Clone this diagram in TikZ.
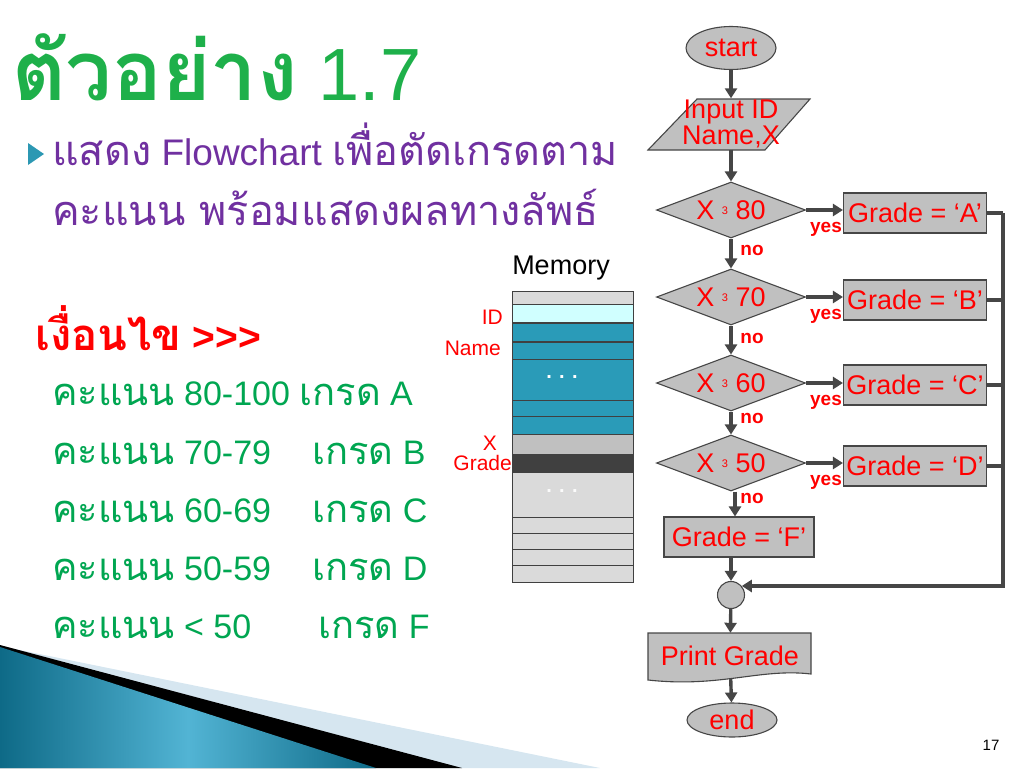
\documentclass[tikz,border=0pt]{standalone}
\usepackage{fontspec}
\setmainfont{Liberation Sans}
\newfontfamily\thaifont[Script=Thai, Scale=1.12]{Loma}
\usetikzlibrary{shapes.geometric}
\usetikzlibrary{arrows.meta}
\definecolor{flowred}{RGB}{255,0,0}
\definecolor{shapegray}{RGB}{192,192,192}
\definecolor{linegray}{RGB}{70,70,70}
\definecolor{titlegreen}{RGB}{30,176,74}
\definecolor{listgreen}{RGB}{0,166,81}
\definecolor{headpurple}{RGB}{112,48,160}
\definecolor{bulletteal}{RGB}{44,152,179}
\definecolor{memteal}{RGB}{42,155,184}
\definecolor{memcyan}{RGB}{208,255,255}
\definecolor{memlight}{RGB}{218,218,218}
\definecolor{memmid}{RGB}{192,192,192}
\definecolor{memdark}{RGB}{64,64,64}
\definecolor{wavedark}{RGB}{14,106,135}
\definecolor{wavelight}{RGB}{82,180,212}
\definecolor{waveedge}{RGB}{214,230,240}
\newcommand{\fsz}[1]{\fontsize{#1}{#1}\selectfont}
\newcommand{\gesign}{{\fsz{11}\raisebox{5pt}{3}}}
\tikzset{
  shp/.style={draw=linegray, line width=1.1pt, fill=shapegray, text=flowred, font=\fsz{27}, inner sep=0pt},
  shpline/.style={draw=linegray, line width=1.1pt, fill=shapegray},
  term/.style={shp, ellipse, minimum width=90pt, minimum height=43pt},
  dec/.style={shp, diamond, aspect=2.6, minimum width=149pt, minimum height=56pt},
  proc/.style={shp, rectangle, minimum width=143pt, minimum height=40pt},
  flowtxt/.style={text=flowred, font=\fontsize{27}{22}\selectfont, align=center, inner sep=0pt},
  flow/.style={line width=3.4pt, draw=linegray, -{Triangle[length=10pt,width=12pt]}},
  rail/.style={line width=3.4pt, draw=linegray},
  yn/.style={text=flowred, font=\bfseries\fsz{19}, inner sep=0pt},
  memrow/.style={draw=black!75, line width=0.9pt},
  memlbl/.style={text=flowred, font=\fsz{21}, inner sep=0pt, anchor=east},
  gradeline/.style={text=listgreen, font=\fsz{34}, anchor=base west, inner sep=0pt},
  headline/.style={text=headpurple, font=\fsz{37}, anchor=base west, inner sep=0pt},
}

\begin{document}
\begin{tikzpicture}[x=1pt, y=-1pt]
  \useasboundingbox (0,0) rectangle (1024,768);

  % bottom left wave
  \fill[waveedge] (0,646) -- (600,768) -- (0,768) -- cycle;
  \fill[black] (0,645) -- (462,768) -- (0,768) -- cycle;
  \shade[left color=wavedark, right color=wavedark, middle color=wavelight] (0,647) -- (376,768) -- (0,768) -- cycle;

  % heading and text
  \node[anchor=base west, inner sep=0pt, text=titlegreen, font=\fsz{74}] (title) at (12,100) {{\thaifont\bfseries ตัวอย่าง} 1.7};
  \fill[bulletteal] (28,143) -- (44,154) -- (28,165) -- cycle;
  \node[headline] (head1) at (52,165) {{\thaifont แสดง} Flowchart {\thaifont เพื่อตัดเกรดตาม}};
  \node[headline] (head2) at (52,225) {\thaifont คะแนน พร้อมแสดงผลทางลัพธ์};
  \node[anchor=base west, inner sep=0pt, text=flowred, font=\bfseries\fsz{39}] (cond) at (35,350) {{\thaifont เงื่อนไข} >{}>{}>};
  \node[gradeline] (sA) at (52,405) {{\thaifont คะแนน} 80-100 {\thaifont เกรด} A};
  \node[gradeline] (sB) at (52,464) {{\thaifont คะแนน} 70-79};
  \node[gradeline] (gB) at (312,464) {{\thaifont เกรด} B};
  \node[gradeline] (sC) at (52,522) {{\thaifont คะแนน} 60-69};
  \node[gradeline] (gC) at (312,522) {{\thaifont เกรด} C};
  \node[gradeline] (sD) at (52,580) {{\thaifont คะแนน} 50-59};
  \node[gradeline] (gD) at (312,580) {{\thaifont เกรด} D};
  \node[gradeline] (sF) at (52,638) {{\thaifont คะแนน} < 50};
  \node[gradeline] (gF) at (318,638) {{\thaifont เกรด} F};

  % memory
  \node[font=\fsz{27}, inner sep=0pt] (memory) at (561,268) {Memory};
  \filldraw[memrow, fill=memlight] (512,291) rectangle (633,304);
  \filldraw[memrow, fill=memcyan] (512,304) rectangle (633,322);
  \filldraw[memrow, fill=memteal] (512,323) rectangle (633,341);
  \filldraw[memrow, fill=memteal] (512,342) rectangle (633,359);
  \filldraw[memrow, fill=memteal] (512,359) rectangle (633,400);
  \filldraw[memrow, fill=memteal] (512,400) rectangle (633,416);
  \filldraw[memrow, fill=memteal] (512,416) rectangle (633,434);
  \filldraw[memrow, fill=memmid] (512,434) rectangle (633,454);
  \filldraw[memrow, fill=memdark] (512,454) rectangle (633,472);
  \filldraw[memrow, fill=memlight] (512,472) rectangle (633,517);
  \filldraw[memrow, fill=memlight] (512,517) rectangle (633,533);
  \filldraw[memrow, fill=memlight] (512,533) rectangle (633,549);
  \filldraw[memrow, fill=memlight] (512,549) rectangle (633,565);
  \filldraw[memrow, fill=memlight] (512,565) rectangle (633,582);
  \node[text=white, font=\bfseries\fsz{20}, inner sep=0pt] (dots1) at (562,377) {. . .};
  \node[text=white!90!memlight, font=\bfseries\fsz{20}, inner sep=0pt] (dots2) at (562,491) {. . .};
  \node[memlbl] (lid) at (503,317) {ID};
  \node[memlbl] (lname) at (501,348) {Name};
  \node[memlbl] (lx) at (497,443) {X};
  \node[memlbl] (lgrade) at (512,463) {Grade};

  % flowchart
  \node[term] (start) at (731,48) {start};
  \filldraw[shpline] (697,99) -- (810,99) -- (765,150) -- (648,150) -- cycle;
  \node[flowtxt, minimum height=51pt] (input) at (731,124) {Input ID\\Name,X};
  \node[dec] (d80) at (731,210) {X \gesign{} 80};
  \node[dec] (d70) at (731,297) {X \gesign{} 70};
  \node[dec] (d60) at (731,383) {X \gesign{} 60};
  \node[dec] (d50) at (731,463) {X \gesign{} 50};
  \node[proc] (gradeA) at (915,213) {Grade = ‘A’};
  \node[proc] (gradeB) at (915,300) {Grade = ‘B’};
  \node[proc] (gradeC) at (915,385) {Grade = ‘C’};
  \node[proc] (gradeD) at (915,466) {Grade = ‘D’};
  \node[proc, minimum width=150pt] (gradeF) at (739,537) {Grade = ‘F’};
  \node[shp, circle, minimum size=27pt] (join) at (731,595) {};
  \filldraw[shpline] (648,633) -- (811,633) -- (811,674) .. controls (760,668) and (720,688) .. (648,680) -- cycle;
  \node[text=flowred, font=\fsz{27}, inner sep=0pt, minimum width=163pt, minimum height=46pt] (print) at (730,656) {Print Grade};
  \node[term, minimum width=90pt, minimum height=34pt] (end) at (732,720) {end};
  \coordinate (railtop) at (1003,213);

  \draw[flow] (start) -- (input);
  \draw[flow] (input) -- (d80);
  \draw[flow] (d80) -- (d70);
  \draw[flow] (d70) -- (d60);
  \draw[flow] (d60) -- (d50);
  \draw[flow] ([xshift=-4pt]d50.south -| gradeF.north) -- ([xshift=-4pt]gradeF.north);
  \draw[flow] (d80.east) -- (d80.east -| gradeA.west);
  \draw[flow] (d70.east) -- (d70.east -| gradeB.west);
  \draw[flow] (d60.east) -- (d60.east -| gradeC.west);
  \draw[flow] (d50.east) -- (d50.east -| gradeD.west);
  \draw[rail] (gradeA.east) -- (railtop);
  \draw[rail] (gradeB.east) -- (gradeB.east -| railtop);
  \draw[rail] (gradeC.east) -- (gradeC.east -| railtop);
  \draw[rail] (gradeD.east) -- (gradeD.east -| railtop);
  \draw[flow] (railtop) |- (join.40);
  \draw[flow] (gradeF.south -| join.north) -- (join.north);
  \draw[flow] (join) -- (print);
  \draw[flow] (print) -- (end);

  \node[yn] (yes80) at (826,229) {yes};
  \node[yn] (yes70) at (826,316) {yes};
  \node[yn] (yes60) at (826,402) {yes};
  \node[yn] (yes50) at (826,482) {yes};
  \node[yn] (no80) at (752,250) {no};
  \node[yn] (no70) at (752,338) {no};
  \node[yn] (no60) at (752,418) {no};
  \node[yn] (no50) at (752,498) {no};

  \node[font=\fsz{15}, inner sep=0pt] (page) at (991,745) {17};
\end{tikzpicture}
\end{document}
